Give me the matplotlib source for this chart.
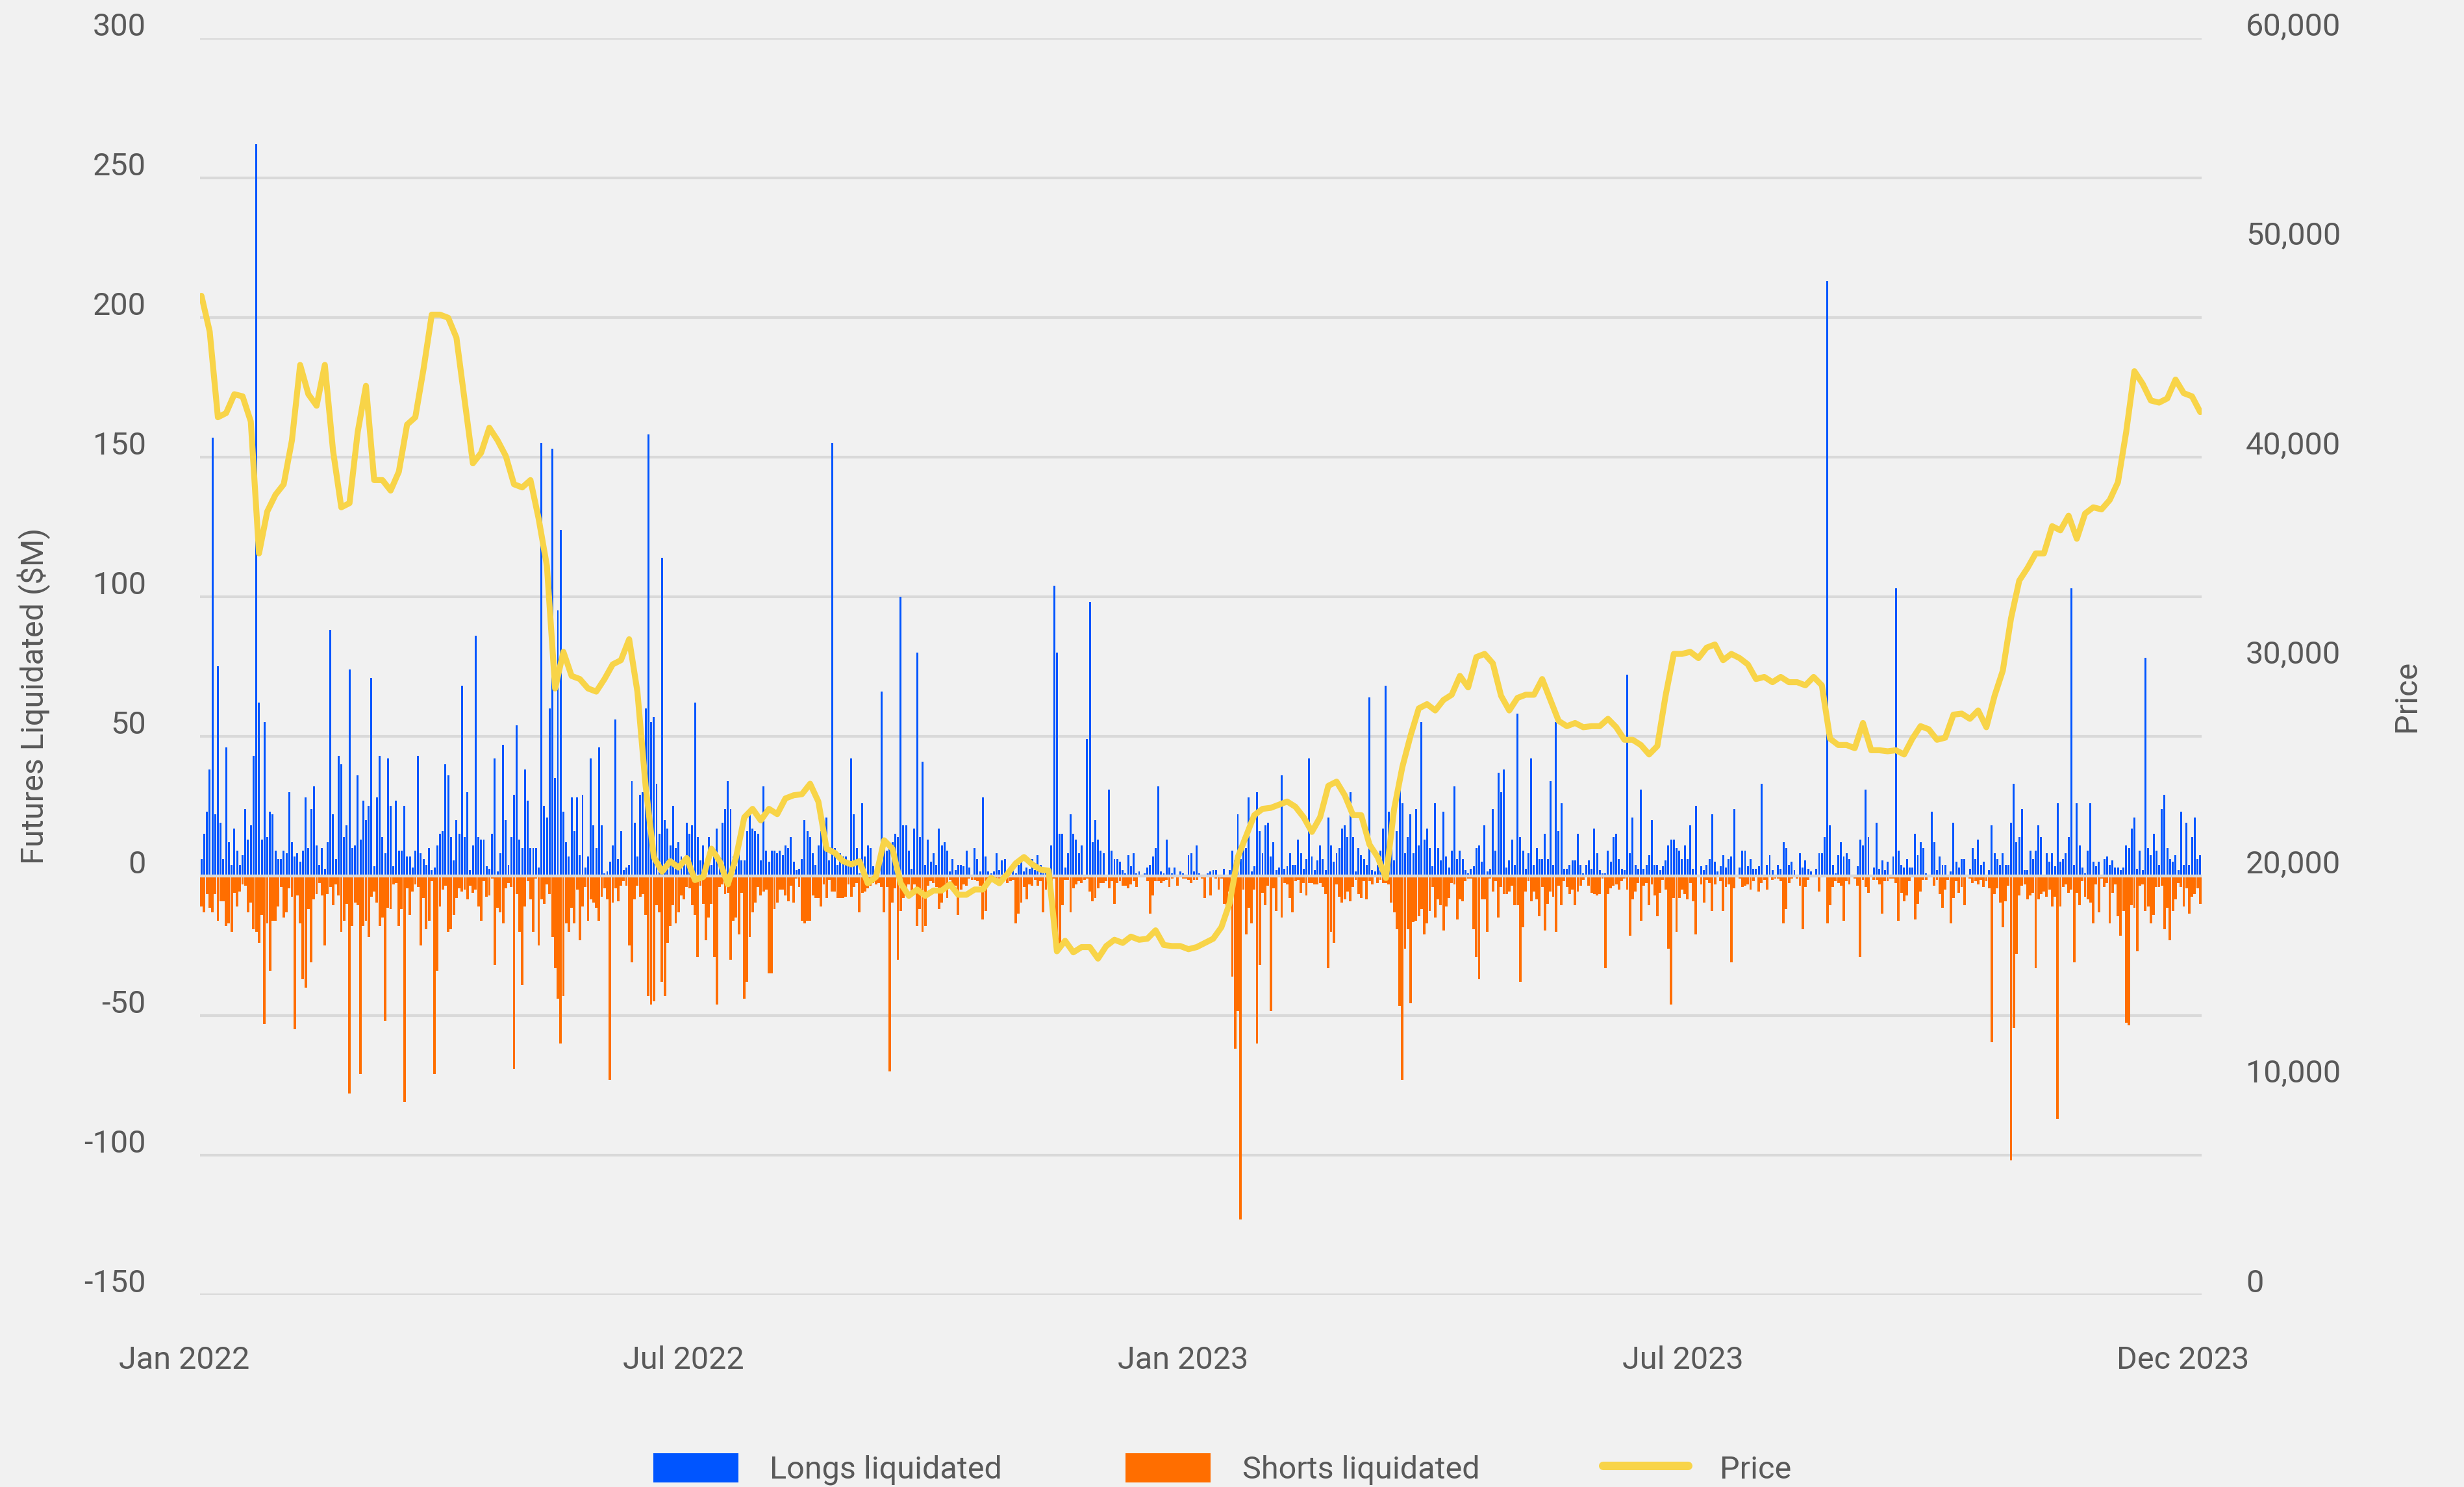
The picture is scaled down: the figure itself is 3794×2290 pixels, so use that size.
import numpy as np
import matplotlib
matplotlib.use('Agg')
import matplotlib.pyplot as plt
import matplotlib.transforms as mtrans
from matplotlib.patches import Patch
from matplotlib.lines import Line2D
from matplotlib.ticker import FuncFormatter

# daily futures liquidations ($M), Jan 1 2022 .. Dec 31 2023
longs = [
    6, 15, 23, 38, 157, 22, 75, 19, 6, 46,
    12, 4, 17, 9, 4, 7.5, 24, 13, 18, 43,
    262, 62, 13, 55, 14, 23, 22, 9, 6, 6,
    9, 8, 30, 12, 7, 8, 5, 9, 28, 10,
    24, 32, 11, 4, 10, 2.5, 12, 88, 22, 6,
    43, 40, 14, 18, 74, 10, 11, 36, 13, 27,
    20, 25, 71, 3.5, 28, 43, 14, 8, 42, 25,
    3.5, 27, 9, 9, 25, 7, 7, 3, 9, 43,
    8, 6, 4, 10, 2, 3, 11, 15, 16, 40,
    36, 14, 5.5, 20, 15, 68, 14, 30, 2, 11,
    86, 14, 13, 13, 3.5, 2.5, 15, 42, 1.5, 8,
    47, 20, 4, 14, 29, 54, 13, 10, 38, 27,
    10, 10, 10, 3,
    155, 25, 21, 60, 153, 35, 95, 124, 23,
    12, 7, 28, 16, 28, 7.5, 29, 3, 7, 42,
    18, 10, 46, 18, 1, 1.5, 5, 11, 56, 6,
    16, 2, 3, 4, 34, 19, 7, 29, 30, 60,
    158, 55, 57, 33, 15, 114, 20, 17, 11, 25,
    10, 12, 7, 6, 19, 15, 18, 62, 14, 5.5,
    11, 4, 14, 4, 7, 17, 6, 19, 24, 34,
    24, 7, 3.5, 10, 5.5, 5.5, 16, 22, 17, 16,
    15, 5.5, 32, 9, 5, 9, 9, 8, 9, 7.5,
    11, 10, 14, 5, 2, 2.5, 6, 20, 16, 14,
    8, 4, 11, 16, 11, 21, 5.5, 155, 10, 4,
    8, 7, 7, 5.5, 42, 22, 10, 1, 26, 7,
    11, 10, 3.5, 2.5,
    5.5, 66, 10, 9, 12, 12, 15, 14, 100,
    18, 18, 9, 2.5, 17, 80, 14, 41, 4, 13,
    5, 8, 4, 17, 11, 12, 9, 1.5, 6, 2,
    4, 4, 3.5, 9, 3, 0.5, 10, 6, 1.5, 28,
    7, 1.5, 1, 1.5, 8, 2, 5.5, 6, 0.5, 0.5,
    2.5, 1, 4, 7, 1.5, 3, 2.5, 6, 2, 7.5,
    4, 1, 1.5, 1, 11, 104, 80, 15, 15, 3,
    8, 22, 15, 13, 8, 11, 0.5, 49, 98, 12,
    20, 13, 9, 8, 0.5, 31, 9, 6, 6, 5,
    2, 1, 7.5, 3.5, 8, 1, 1.5, 0.5, 1, 3,
    4, 7, 10, 32, 1.5, 1, 13, 3, 1, 3,
    0.5, 1.5, 1, 0.5, 7.5, 8, 1.5, 11, 1, 0.5,
    0.5, 1, 1.5, 2,
    2, 0.5, 0.5, 2.5, 0.5, 2, 9, 5.5, 22, 6,
    14, 10, 28, 1.5, 3.5, 30, 16, 8, 18, 19,
    7, 12, 2, 3, 36, 2.5, 3.5, 8, 4, 4,
    13, 8, 2.5, 6, 42, 7, 2, 5.5, 11, 6,
    2, 21, 11, 5, 8, 10, 17, 18, 14, 30,
    14, 1.5, 10, 7.5, 6, 4, 64, 2, 1.5, 4,
    9, 17, 68, 23, 13, 5.5, 16, 32, 26, 8,
    14, 22, 8, 24, 11, 55, 13, 17, 10, 3.5,
    26, 10, 5.5, 23, 7, 3, 9, 32, 6, 9,
    6, 2, 1, 2.5, 3.5, 10, 11, 5, 18, 1.5,
    2.5, 24, 9, 37, 30, 38, 3, 5.5, 13, 4,
    58, 14, 9, 2.5, 8, 42, 4, 10, 6, 6,
    15, 6, 34, 4,
    55, 16, 26, 2.5, 2.5, 4, 5.5, 5.5, 15,
    4, 1, 4, 5.5, 2.5, 17, 8, 2, 1, 1,
    9, 5, 14, 15, 6, 2.5, 2, 72, 8, 21,
    4, 2.5, 31, 2.5, 4, 7.5, 20, 4, 4, 2,
    3.5, 5.5, 11, 13, 13, 10, 9, 6, 11, 6,
    18, 2.5, 25, 0.5, 3.5, 2, 4, 6, 22, 5,
    1.5, 3.5, 7.5, 3, 6, 7, 24, 0.5, 3, 9,
    9, 3.5, 6, 2.5, 2.5, 3.5, 33, 0.5, 4, 7.5,
    2, 0.5, 4, 2.5, 12, 10, 4, 5, 2, 0.5,
    8, 3, 5.5, 2.5, 1.5, 0.5, 2.5, 8, 8, 14,
    213, 18, 4, 1, 7.5, 12, 7, 8, 6, 0.5,
    0.5, 3.5, 13, 11, 31, 14, 0.5, 3, 19, 2.5,
    5.5, 2, 5, 0.5,
    7, 103, 9, 4, 3, 6, 3, 3, 15, 7.5,
    12, 10, 1, 0.5, 23, 12, 2, 7, 4, 4,
    0.5, 1.5, 19, 5, 3, 6, 6, 0.5, 2.5, 10,
    6, 13, 4, 5, 0.5, 2, 18, 8, 6, 4,
    8, 4, 4, 19, 33, 12, 14, 24, 2, 2,
    9, 6, 9, 18, 14, 0.5, 8, 5, 8, 3.5,
    26, 5, 6, 8, 14, 103, 4, 26, 11, 3,
    1, 9, 26, 5, 3.5, 5, 0.5, 6, 7, 4,
    5.5, 3, 3, 2, 3, 11, 10, 17, 21, 2.5,
    9, 2, 78, 10, 7.5, 15, 9, 4, 24, 29,
    10, 6, 5, 7.5, 2, 23, 4, 19, 4, 14,
    21, 6, 7.5,
]

shorts = [
    11, 13, 6.5, 11.5, 13, 6.5, 16, 9, 9, 18,
    17, 20, 6, 11, 5.5, 3, 3.5, 13, 9.5, 19,
    20, 24, 14, 53, 17, 34, 16, 16, 11, 4,
    15, 13, 4.5, 7.5, 55, 7, 17, 37, 40, 12,
    31, 8.5, 6.5, 2.5, 7, 25, 6.5, 4, 10.5, 3,
    7, 20, 16, 10, 78, 18, 9.5, 10.5, 71, 18,
    16, 22, 7.5, 5.5, 9.5, 18, 15, 52, 11.5, 12,
    3, 2.5, 18, 12, 81, 4.5, 14, 5.5, 3, 4,
    25, 8, 19, 16, 2, 71, 34, 11, 5, 3.5,
    20, 19, 14, 8, 4.5, 5.5, 5, 8.5, 3.5, 6,
    5, 11, 16, 2, 7.5, 7, 1, 32, 11.5, 13,
    17, 4.5, 2.5, 4, 69, 6.5, 20, 39, 11, 2,
    8.5, 20, 1, 25,
    8.5, 10, 3, 6.5, 22, 33, 44, 60, 43,
    17, 20, 11.5, 17, 5, 23, 11, 4, 16, 8.5,
    9.5, 11.5, 16, 7.5, 4.5, 8.5, 73, 9.5, 4.5, 9,
    3.5, 2, 3.5, 25, 31, 8.5, 3.5, 7.5, 6.5, 14,
    43, 46, 45, 10.5, 13, 38, 43, 24, 18, 10.5,
    17, 13, 7, 8.5, 4, 4.5, 10.5, 14, 29, 3.5,
    10, 23, 15, 10, 29, 46, 4, 3, 6.5, 6,
    30, 16, 15, 21, 6, 44, 38, 22, 13, 9.5,
    4, 7, 5.5, 5, 35, 35, 12, 9.5, 5, 5,
    7, 9, 3.5, 9.5, 1, 4, 16, 17, 16, 16,
    7, 8, 8, 11, 3, 8, 1.5, 5.5, 5.5, 8,
    8, 8, 7.5, 3, 7.5, 4, 2.5, 13, 6, 5.5,
    4.5, 3.5, 2.5, 3,
    2.5, 4, 13, 4, 70, 9.5, 4.5, 30, 12.5,
    8, 6, 3, 6, 3, 18, 12, 20, 18, 3.5,
    2, 2.5, 4, 12, 9.5, 5.5, 8, 1.5, 4, 3.5,
    14, 5, 3, 3.5, 1, 1.5, 1.5, 2, 3.5, 15.5,
    12.5, 2, 2, 1.5, 2.5, 1, 2, 1, 2.5, 2,
    1.5, 17, 13.5, 9.5, 4, 8.5, 3, 3.5, 1.5, 3.5,
    2, 13, 5, 1.5, 2, 1, 21, 26, 10.5, 1.5,
    1.5, 13, 4.5, 3, 2, 2.5, 1.5, 1, 5.5, 9,
    8, 4.5, 2.5, 2.5, 2, 4.5, 2, 10, 2.5, 2,
    3.5, 3.5, 4.5, 3, 2, 4, 0.5, 0.5, 0.5, 2,
    13.5, 7, 2, 2, 2.5, 2, 1.5, 4, 1, 0.5,
    3.5, 0.5, 1, 1, 1.5, 2.5, 1.5, 1.5, 0, 1,
    8, 0.5, 7, 0.5,
    1, 5, 1, 10, 14, 5.5, 36, 62, 48.5, 123,
    5, 21, 11.5, 17, 5, 60, 32, 6, 10.5, 3.5,
    48.5, 4.5, 12.5, 0.5, 15, 2.5, 3, 8, 13, 2,
    1.5, 6, 2.5, 7, 2.5, 2.5, 3, 3, 2.5, 4,
    6.5, 33, 20, 24, 3, 7.5, 9.5, 8.5, 5.5, 9,
    4, 1.5, 6.5, 8, 2, 8.5, 2, 3, 0.5, 2.5,
    1.5, 2.5, 2.5, 3, 9.5, 13, 19, 46.5, 73, 26,
    19, 45.5, 16.5, 16, 14.5, 12, 21, 17, 12.5, 4,
    15, 8.5, 10.5, 19.5, 11, 8, 2.5, 3, 15.5, 8.5,
    9, 2, 1, 1, 19, 29, 37, 8.5, 8.5, 20,
    1, 5.5, 2, 15, 4, 6.5, 6.5, 5.5, 3.5, 10.5,
    10.5, 38, 18.5, 5.5, 2, 9, 5.5, 8.5, 14.5, 4,
    19.5, 10, 5.5, 7.5,
    20, 3.5, 10.5, 2, 4, 6.5, 5, 10.5, 5.5,
    3.5, 1.5, 0.5, 3.5, 6, 6.5, 7, 6.5, 1, 33,
    6.5, 4.5, 3.5, 3, 5, 2, 1, 5, 21.5, 8.5,
    5.5, 2.5, 16, 3.5, 2.5, 10.5, 3, 7, 14.5, 6,
    1.5, 5, 26, 46, 8, 20, 8, 5, 6.5, 8.5,
    2.5, 9, 21, 0, 3, 9.5, 1.5, 2.5, 12.5, 3,
    0.5, 2, 12.5, 4, 3, 31, 4.5, 0, 1, 4,
    3.5, 3, 5, 2, 0.5, 5.5, 2.5, 1.5, 5, 0.5,
    1.5, 1, 1, 2, 17, 12, 2.5, 1, 0.5, 1,
    3.5, 19, 4, 1.5, 0, 0.5, 0.5, 5.5, 0.5, 0.5,
    17, 10.5, 4, 2, 2.5, 3.5, 16, 2, 3, 0.5,
    1, 3.5, 29, 1.5, 4, 6, 0.5, 1.5, 1.5, 3,
    13.5, 2, 2, 1,
    1, 2.5, 16, 6, 9, 7, 2, 0.5, 15.5, 10,
    5.5, 1.5, 1.5, 0.5, 0.5, 3.5, 1.5, 6.5, 11.5, 5,
    1.5, 17, 8, 2, 6, 4, 10.5, 0.5, 1, 2.5,
    2, 3, 1.5, 4, 2, 4.5, 59.5, 6.5, 4.5, 9.5,
    18.5, 9, 3.5, 102, 54.5, 28, 7, 3.5, 3, 8.5,
    7, 6, 33, 8.5, 6.5, 5.5, 7.5, 5, 11, 7.5,
    87, 11, 4, 3, 6, 5, 31, 6, 10.5, 2,
    7.5, 8.5, 9.5, 17, 3, 13, 1, 4, 2.5, 17,
    6, 3, 14.5, 21.5, 12.5, 52.5, 53.5, 10.5, 11.5, 27,
    3.5, 3, 12.5, 11, 17, 14, 4, 4, 3.5, 19,
    11.5, 23, 12.5, 8.5, 2.5, 4, 11, 4.5, 13.5, 7.5,
    6.5, 4.5, 10,
]

# BTC price in thousands of USD, one value every 3 days
price_step = 3
price = [
    47.7, 46.0, 41.9, 42.1, 43.0, 42.9, 41.7, 35.4, 37.4, 38.2,
    38.7, 40.8, 44.4, 43.0, 42.45, 44.4, 40.3, 37.6, 37.8, 41.2,
    43.4, 38.9, 38.9, 38.4, 39.3, 41.55, 41.9, 44.2, 46.8, 46.8,
    46.65, 45.7, 42.7, 39.7, 40.2, 41.4, 40.8, 40.05, 38.7, 38.55,
    38.9, 37.05, 34.8, 28.95, 30.7, 29.55, 29.4, 28.95, 28.8, 29.4,
    30.1, 30.3, 31.3, 28.8, 24.3, 20.9, 20.2, 20.7, 20.4, 20.85,
    19.8, 19.95, 21.3, 20.7, 19.6, 20.9, 22.8, 23.2, 22.65, 23.2,
    22.95, 23.7, 23.85, 23.9, 24.4, 23.55, 21.3, 21.1, 20.7, 20.55,
    20.7, 19.65, 19.95, 21.7, 21.3, 19.65, 19.05, 19.35, 19.05, 19.3,
    19.3, 19.6, 19.1, 19.1, 19.35, 19.35, 19.9, 19.65, 20.1, 20.6,
    20.9, 20.55, 20.3, 20.25, 16.4, 16.9, 16.35, 16.6, 16.6, 16.05,
    16.65, 16.95, 16.8, 17.1, 16.95, 17.0, 17.4, 16.7, 16.65, 16.65,
    16.5, 16.6, 16.8, 17.0, 17.55, 18.7, 20.9, 21.9, 22.9, 23.2,
    23.25, 23.4, 23.55, 23.3, 22.8, 22.1, 22.8, 24.3, 24.5, 23.85,
    22.9, 22.9, 21.5, 20.9, 19.9, 23.2, 25.2, 26.7, 28.0, 28.2,
    27.9, 28.4, 28.65, 29.55, 29.0, 30.45, 30.6, 30.15, 28.6, 27.9,
    28.5, 28.65, 28.65, 29.4, 28.4, 27.4, 27.15, 27.3, 27.1, 27.15,
    27.15, 27.5, 27.1, 26.5, 26.5, 26.25, 25.8, 26.2, 28.6, 30.6,
    30.6, 30.7, 30.4, 30.9, 31.05, 30.3, 30.6, 30.4, 30.1, 29.4,
    29.5, 29.25, 29.5, 29.25, 29.25, 29.1, 29.5, 29.1, 26.55, 26.25,
    26.25, 26.1, 27.3, 26.0, 26.0, 25.95, 26.0, 25.8, 26.55, 27.15,
    27.0, 26.5, 26.6, 27.7, 27.75, 27.5, 27.9, 27.1, 28.6, 29.8,
    32.3, 34.1, 34.7, 35.4, 35.4, 36.7, 36.5, 37.2, 36.1, 37.3,
    37.6, 37.5, 37.95, 38.8, 41.2, 44.1, 43.5, 42.7, 42.6, 42.8,
    43.7, 43.05, 42.9, 42.15,
]

x_labels = ['Jan 2022', 'Jul 2022', 'Jan 2023', 'Jul 2023', 'Dec 2023']

BLUE = '#0055FF'
ORANGE = '#FF6E00'
YELLOW = '#F8D448'
BG = '#F1F1F1'
GRID = '#D9D9D9'
TEXT = '#595959'
FS = 17.5

plt.rcParams['font.family'] = ['Roboto', 'DejaVu Sans']
plt.rcParams['axes.unicode_minus'] = False

fig = plt.figure(figsize=(18.97, 11.45), dpi=200, facecolor=BG)
ax = fig.add_axes([0.0812, 0.1293, 0.8123, 0.8450])
ax.set_facecolor(BG)

ax.bar(np.arange(len(longs)), longs, width=0.7, color=BLUE, zorder=2)
ax.bar(np.arange(len(shorts)), -np.array(shorts), width=0.92, color=ORANGE, zorder=2)
ax.axhline(0, color=GRID, lw=1.6, zorder=3)

ax.set_ylim(-150, 300)
ax.set_yticks(range(-150, 301, 50))
ax.set_xlim(-0.5, 729.5)
ax.yaxis.grid(True, color=GRID, lw=1.5)
ax.set_axisbelow(True)
for s in ax.spines.values():
    s.set_visible(False)
ax.tick_params(axis='y', length=0, labelsize=FS, labelcolor=TEXT, pad=30)
ax.tick_params(axis='x', length=0, labelsize=FS, labelcolor=TEXT, pad=28)

ax.set_xticks(np.linspace(0, 729, 5))
ax.set_xticklabels(x_labels)

# labels sit a little left of / above their tick positions in the original
left_shift = mtrans.ScaledTranslation(-27 / 200, 0, fig.dpi_scale_trans)
up_shift = mtrans.ScaledTranslation(0, 22 / 200, fig.dpi_scale_trans)
for lbl in ax.get_xticklabels():
    lbl.set_transform(lbl.get_transform() + left_shift)
for lbl in ax.get_yticklabels():
    lbl.set_transform(lbl.get_transform() + up_shift)

ax.set_ylabel('Futures Liquidated ($M)', fontsize=FS, color=TEXT)
ax.yaxis.set_label_coords(-0.0746, 0.4765)

ax2 = ax.twinx()
ax2.plot(np.arange(len(price)) * price_step, np.array(price) * 1000, color=YELLOW,
         lw=3.3, solid_joinstyle='round', solid_capstyle='round', zorder=4)
ax2.set_ylim(0, 60000)
ax2.set_yticks(range(0, 60001, 10000))
ax2.yaxis.set_major_formatter(FuncFormatter(lambda v, p: f'{v:,.0f}'))
for s in ax2.spines.values():
    s.set_visible(False)
ax2.tick_params(axis='y', length=0, labelsize=FS, labelcolor=TEXT, pad=24.5)
for lbl in ax2.get_yticklabels():
    lbl.set_transform(lbl.get_transform() + up_shift)
ax2.set_ylabel('Price', fontsize=FS, color=TEXT)
ax2.yaxis.set_label_coords(1.095, 0.4765)
ax2.set_xlim(-0.5, 729.5)

handles = [Patch(facecolor=BLUE, edgecolor='none'),
           Patch(facecolor=ORANGE, edgecolor='none'),
           Line2D([], [], color=YELLOW, lw=4.7, solid_capstyle='round')]
fig.legend(handles, ['Longs liquidated', 'Shorts liquidated', 'Price'],
           loc='upper center', bbox_to_anchor=(0.496, 0.0335), ncol=3,
           frameon=False, fontsize=FS, labelcolor=TEXT, handlelength=2.7,
           handleheight=1.05, handletextpad=1.0, columnspacing=3.9, borderpad=0)

fig.savefig('out.png', dpi=200, facecolor=BG)
